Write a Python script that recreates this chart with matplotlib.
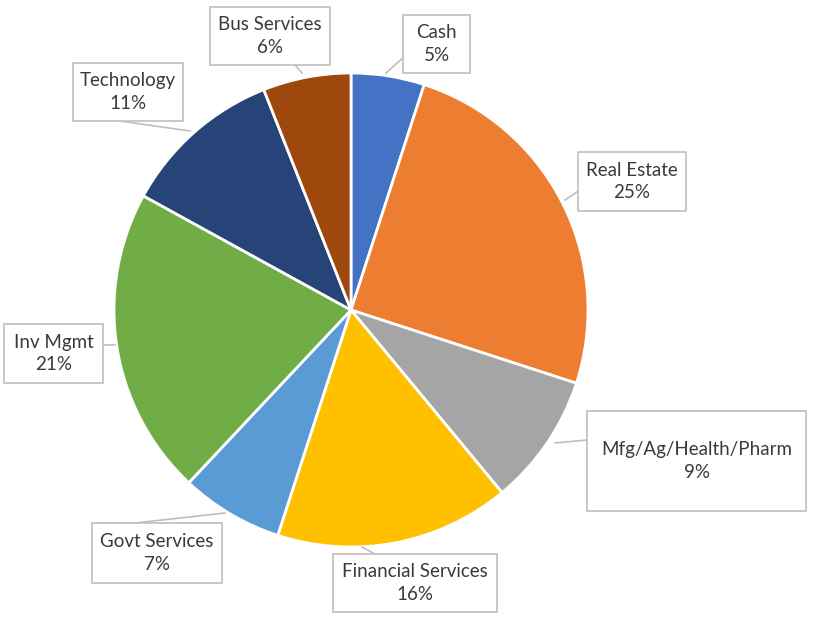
import matplotlib.pyplot as plt
from matplotlib.patches import Rectangle

# --- Portfolio sectors (clockwise from 12 o'clock) ---
sectors = ["Cash", "Real Estate", "Mfg/Ag/Health/Pharm", "Financial Services",
           "Govt Services", "Inv Mgmt", "Technology", "Bus Services"]
shares = [5, 25, 9, 16, 7, 21, 11, 6]
colors = ["#4472C4", "#ED7D31", "#A5A5A5", "#FFC000",
          "#5B9BD5", "#70AD47", "#264478", "#9E480E"]

# --- Callout boxes in pixel space: (x0, y0_top, x1, y1_bottom) and leader line ---
W, H = 813, 620
boxes = {
    "Cash": ((403, 15, 470, 73), [(405, 56), (386, 73)]),
    "Real Estate": ((578, 152, 686, 211), [(580, 190), (565, 200)]),
    "Mfg/Ag/Health/Pharm": ((587, 411, 806, 511), [(587, 440), (555, 443)]),
    "Financial Services": ((333, 554, 497, 612), [(375, 554), (362, 547)]),
    "Govt Services": ((92, 523, 222, 583), [(135, 523), (225, 513)]),
    "Inv Mgmt": ((4, 324, 103, 383), [(103, 345), (115, 345)]),
    "Technology": ((73, 63, 183, 121), [(120, 121), (190, 131)]),
    "Bus Services": ((210, 7, 330, 65), [(295, 65), (302, 73)]),
}

fig = plt.figure(figsize=(W / 100, H / 100), dpi=100)
ax = fig.add_axes([0, 0, 1, 1])

ax.pie(shares, colors=colors, startangle=90, counterclock=False,
       center=(351, H - 310), radius=237, frame=True,
       wedgeprops=dict(edgecolor="white", linewidth=2))
ax.set_xlim(0, W)
ax.set_ylim(0, H)
ax.set_aspect("equal")
ax.axis("off")

for name, val in zip(sectors, shares):
    (x0, y0, x1, y1), leader = boxes[name]
    ax.add_patch(Rectangle((x0, H - y1), x1 - x0, y1 - y0, facecolor="white",
                           edgecolor="#BFBFBF", linewidth=1.2, zorder=3))
    lx = [p[0] for p in leader]
    ly = [H - p[1] for p in leader]
    ax.plot(lx, ly, color="#BFBFBF", linewidth=1.2, zorder=2)
    ax.text((x0 + x1) / 2, H - (y0 + y1) / 2, f"{name}\n{val}%",
            ha="center", va="center", fontsize=13.5, family="Lato",
            color="#3A3A3A", linespacing=1.4, zorder=4)

fig.savefig("out.png", dpi=100)
